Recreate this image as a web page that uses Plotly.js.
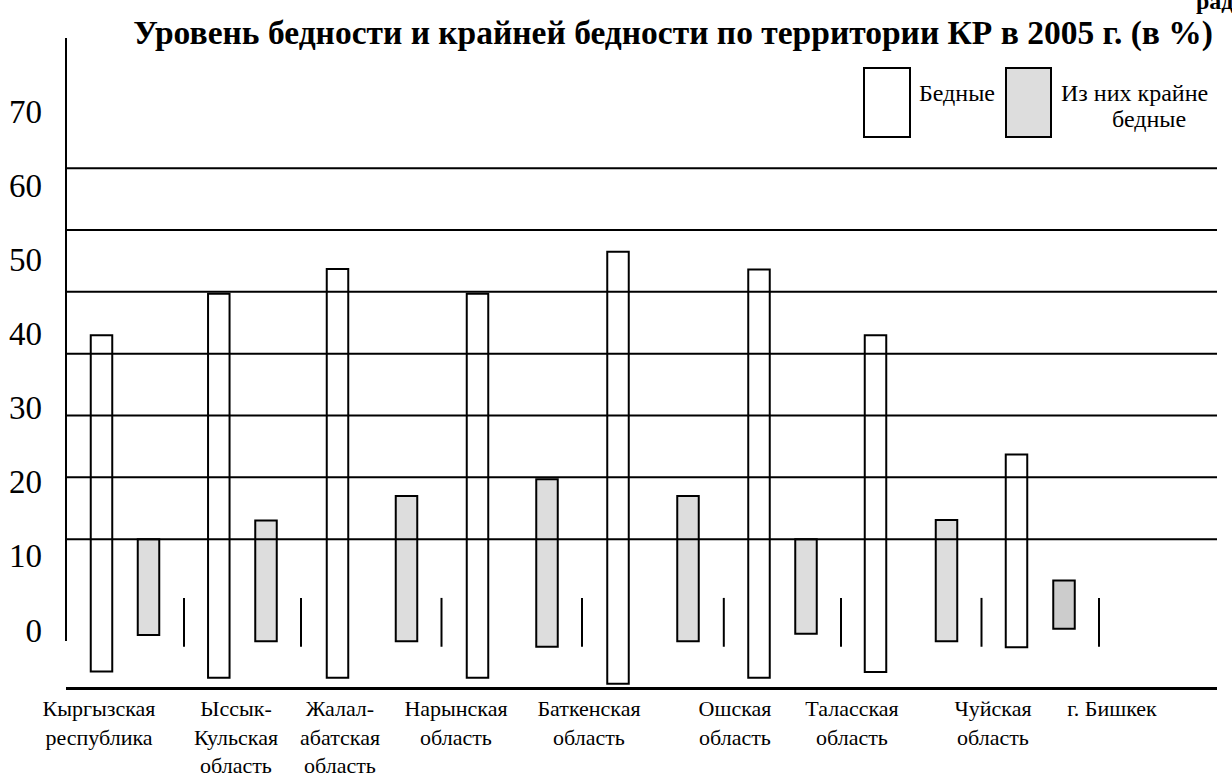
<!DOCTYPE html>
<html>
<head>
<meta charset="utf-8">
<script src="https://cdn.plot.ly/plotly-3.0.1.min.js"></script>
<style>html,body{margin:0;padding:0;background:#fff;}#chart{width:1232px;height:776px;}</style>
</head>
<body>
<div id="chart"></div>
<script>
// ---- data ----
const regions = ["Кыргызская<br>республика", "Ыссык-<br>Кульская<br>область", "Жалал-<br>абатская<br>область",
  "Нарынская<br>область", "Баткенская<br>область", "Ошская<br>область", "Таласская<br>область",
  "Чуйская<br>область", "г. Бишкек"];
const poorTop     = [43.0, 49.7, 53.7, 49.7, 56.5, 53.6, 43.0, 23.7];
const poorBottom  = [-11.4, -12.4, -12.4, -12.4, -13.4, -12.4, -11.5, -7.5];
const extremeTop    = [10.0, 13.0, 17.0, 19.7, 17.0, 10.0, 13.1, 3.3];
const extremeBottom = [-5.5, -6.5, -6.5, -7.4, -6.5, -5.3, -6.5, -4.5];
const tickTop    = [0.5, 0.5, 0.5, 0.5, 0.5, 0.5, 0.5, 0.5];
const tickBottom = [-7.4, -7.4, -7.4, -7.4, -7.4, -7.4, -7.4, -7.4];
const gridVals = [10, 20, 30, 40, 50, 60, 70];
const yLabelVals = [0, 10, 20, 30, 40, 50, 60, 70];
const yLabelText = ["0", "10", "20", "30", "40", "50", "60", "70"];
const legendNames = ["Бедные", "Из них крайне", "бедные"];
const titleText = "Уровень бедности и крайней бедности по территории КР в 2005 г. (в %)";

// ---- slot positions along the horizontal axis ----
const poorX    = [3.55, 15.28, 27.15, 41.15, 55.2, 69.3, 80.95, 95.05];
const extremeX = [8.25, 20.0, 34.05, 48.1, 62.2, 74.0, 88.05, 99.8];
const tickX    = [11.8, 23.5, 37.55, 51.6, 65.78, 77.5, 91.55, 103.3];
const labelX   = [3.3, 17.0, 27.4, 39.0, 52.3, 66.9, 78.6, 92.7, 104.6];

const FONT = 'Liberation Serif, Times New Roman, serif';
const W = 1232, H = 776, PL = 66, PR = 1217, PT = 40, PB = 687;
const xp = px => (px - PL) / (PR - PL);
const yp = py => (PB - py) / (PB - PT);

const traces = [
  {type: 'bar', x: poorX, base: poorBottom, y: poorTop.map((t, i) => t - poorBottom[i]),
   width: 2.15, marker: {color: '#ffffff', line: {color: '#000', width: 2}},
   showlegend: false, hoverinfo: 'skip'},
  {type: 'bar', x: extremeX, base: extremeBottom, y: extremeTop.map((t, i) => t - extremeBottom[i]),
   width: 2.15, marker: {color: extremeTop.map((v, i) => i === extremeTop.length - 1 ? '#cccccc' : '#dddddd'),
   line: {color: '#000', width: 2}}, showlegend: false, hoverinfo: 'skip'},
  {type: 'bar', x: tickX, base: tickBottom, y: tickTop.map((t, i) => t - tickBottom[i]),
   width: 0.2, marker: {color: '#000', line: {width: 0}}, showlegend: false, hoverinfo: 'skip'},
  {type: 'scatter', mode: 'markers', x: [0], y: [0], yaxis: 'y2', marker: {opacity: 0},
   showlegend: false, hoverinfo: 'skip'}
];

const shapes = gridVals.map(g => ({type: 'line', xref: 'paper', yref: 'y', x0: 0, x1: 1, y0: g, y1: g,
  line: {color: '#000', width: 2}, layer: 'above'}));
shapes.push({type: 'line', xref: 'paper', yref: 'paper', x0: 0, x1: 0, y0: yp(641), y1: yp(38),
  line: {color: '#000', width: 2}});
shapes.push({type: 'rect', xref: 'paper', yref: 'paper', x0: xp(864), x1: xp(910), y0: yp(137), y1: yp(68),
  fillcolor: '#ffffff', line: {color: '#000', width: 2}});
shapes.push({type: 'rect', xref: 'paper', yref: 'paper', x0: xp(1006), x1: xp(1051), y0: yp(137), y1: yp(68),
  fillcolor: '#dddddd', line: {color: '#000', width: 2}});

const annotations = [
  {xref: 'paper', yref: 'paper', x: xp(917), y: yp(93), xanchor: 'left', yanchor: 'middle',
   text: legendNames[0], showarrow: false, font: {family: FONT, size: 24, color: '#000'}},
  {xref: 'paper', yref: 'paper', x: xp(1134), y: yp(93), xanchor: 'center', yanchor: 'middle',
   text: legendNames[1], showarrow: false, font: {family: FONT, size: 24, color: '#000'}},
  {xref: 'paper', yref: 'paper', x: xp(1149), y: yp(119), xanchor: 'center', yanchor: 'middle',
   text: legendNames[2], showarrow: false, font: {family: FONT, size: 24, color: '#000'}},
  {xref: 'paper', yref: 'paper', x: xp(1194), y: yp(1), xanchor: 'left', yanchor: 'middle',
   text: '<b>рад</b>', showarrow: false, font: {family: FONT, size: 24, color: '#000'}}
];

const layout = {
  width: W, height: H,
  margin: {l: PL, r: W - PR, t: PT, b: H - PB, pad: 0},
  paper_bgcolor: '#fff', plot_bgcolor: '#fff',
  barmode: 'overlay',
  showlegend: false,
  title: {text: '<b>' + titleText + '</b>', xref: 'container', yref: 'container',
    x: 1213 / W, xanchor: 'right', y: 1 - 32 / H, yanchor: 'middle',
    font: {family: FONT, size: 33.5, color: '#000'}},
  xaxis: {range: [0, (PR - PL) / 10], showgrid: false, zeroline: false, showline: true,
    linecolor: '#000', linewidth: 2.5, tickvals: labelX, ticktext: regions, ticks: '',
    ticklabelstandoff: 0,
    tickfont: {family: FONT, size: 22, color: '#000'}, fixedrange: true},
  yaxis: {range: [(601 - PB) / 6.183, (601 - PT) / 6.183], showgrid: false, zeroline: false,
    showline: false, showticklabels: false, ticks: '', fixedrange: true},
  yaxis2: {overlaying: 'y', side: 'left', range: [(630 - PB) / 7.414, (630 - PT) / 7.414],
    tickvals: yLabelVals, ticktext: yLabelText, showgrid: false, zeroline: false, showline: false,
    ticks: '', ticklabelstandoff: 23, tickfont: {family: FONT, size: 33, color: '#000'}, fixedrange: true},
  shapes: shapes,
  annotations: annotations
};

Plotly.newPlot('chart', traces, layout, {displayModeBar: false, staticPlot: true});
</script>
</body>
</html>
